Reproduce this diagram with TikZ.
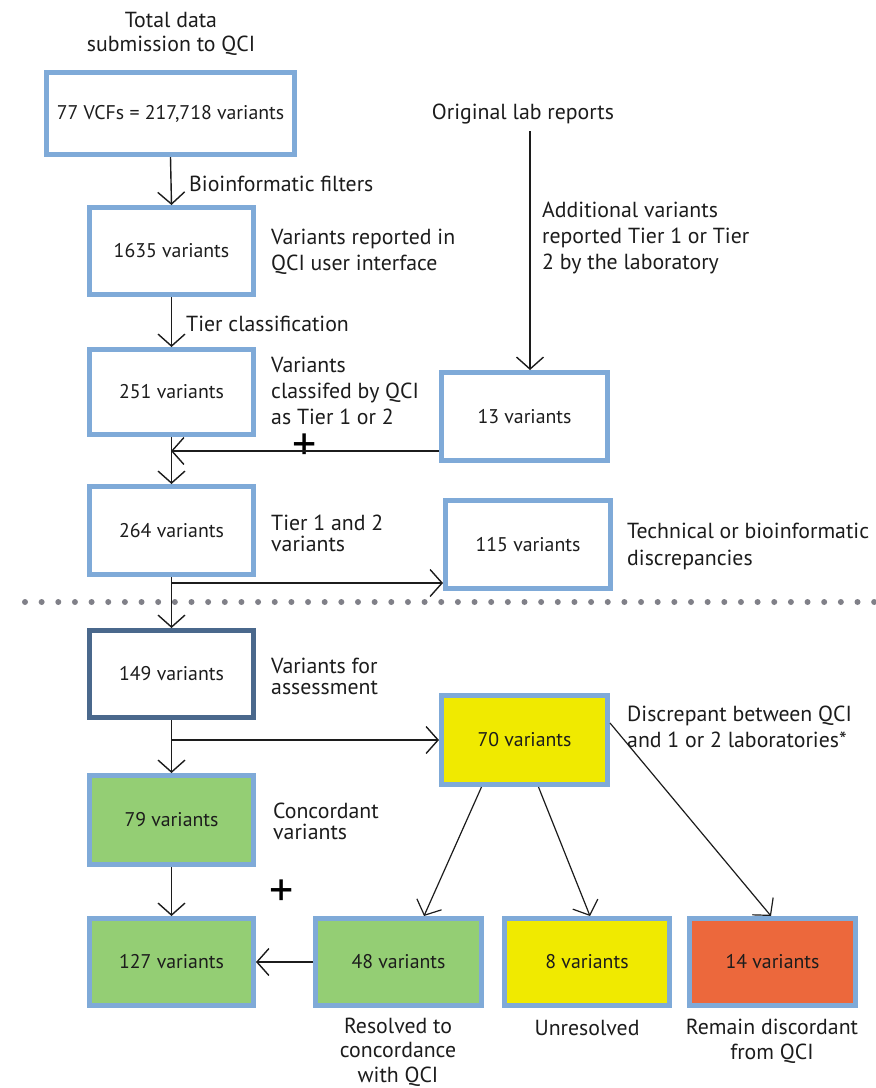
\documentclass[tikz,border=0pt]{standalone}
\usepackage{fontspec}
\setmainfont{PT Sans}
\usetikzlibrary{arrows.meta,calc}
\definecolor{lblue}{RGB}{127,170,216}
\definecolor{dblue}{RGB}{74,104,140}
\definecolor{gfill}{RGB}{148,206,116}
\definecolor{yfill}{RGB}{240,234,0}
\definecolor{ofill}{RGB}{236,104,60}
\definecolor{dotc}{RGB}{128,128,136}
\definecolor{txt}{RGB}{28,28,28}
\begin{document}
\begin{tikzpicture}[x=1pt,y=-1pt,
  box/.style={draw=lblue,line width=5pt,fill=white,inner sep=0pt,text=txt,
    font=\fontsize{19.8}{23}\selectfont},
  lbl/.style={anchor=west,align=left,inner sep=0pt,text=txt,font=\fontsize{21.8}{#1}\selectfont},
  lbl/.default={26},
  clbl/.style={align=center,inner sep=0pt,text=txt,font=\fontsize{21.8}{#1}\selectfont},
  clbl/.default={25},
  arr/.style={line width=1.4pt,draw=txt,-{Straight Barb[length=12pt,width=27pt]}},
  darr/.style={line width=1.2pt,draw=txt,-{Straight Barb[length=12pt,width=27pt]}},
  plus/.style={inner sep=0pt,text=black,font=\fontsize{48}{48}\selectfont}]
\useasboundingbox (0,0) rectangle (876,1088);

% boxes
\node[box,minimum width=248pt,minimum height=82pt] (A) at (170.5,113.5) {77 VCFs = 217,718 variants};
\node[box,minimum width=164pt,minimum height=87pt] (B) at (171.5,251) {1635 variants};
\node[box,minimum width=164pt,minimum height=85pt] (C) at (171.5,392) {251 variants};
\node[box,minimum width=166pt,minimum height=88pt] (D) at (524.5,416.5) {13 variants};
\node[box,minimum width=164pt,minimum height=88pt] (E) at (171.5,530.5) {264 variants};
\node[box,minimum width=165pt,minimum height=88pt] (F) at (528,544.5) {115 variants};
\node[box,draw=dblue,minimum width=164pt,minimum height=87pt] (G) at (171.5,674) {149 variants};
\node[box,fill=yfill,minimum width=166pt,minimum height=89pt] (H) at (524.5,740) {70 variants};
\node[box,fill=gfill,minimum width=164pt,minimum height=89pt] (I) at (171.5,820) {79 variants};
\node[box,fill=gfill,minimum width=164pt,minimum height=87pt] (J) at (171.5,962) {127 variants};
\node[box,fill=gfill,minimum width=166pt,minimum height=87pt] (K) at (398.5,962) {48 variants};
\node[box,fill=yfill,minimum width=165pt,minimum height=87pt] (L) at (587,962) {8 variants};
\node[box,fill=ofill,minimum width=166pt,minimum height=87pt] (M) at (772.5,962) {14 variants};

% labels
\node[clbl={24}] (t0) at (171,34) {Total data\\submission to QCI};
\node[clbl] (O) at (523,114) {Original lab reports};
\node[lbl] (t1) at (189,184) {Bioinformatic filters};
\node[lbl] (t2) at (271,252) {Variants reported in\\QCI user interface};
\node[lbl] (t3) at (542,238) {Additional variants\\reported Tier 1 or Tier\\2 by the laboratory};
\node[lbl] (t4) at (186,324) {Tier classification};
\node[lbl] (t5) at (271,391) {Variants\\classifed by QCI\\as Tier 1 or 2};
\node[lbl={21}] (t6) at (271,533) {Tier 1 and 2\\variants};
\node[lbl={27}] (t7) at (627,546) {Technical or bioinformatic\\discrepancies};
\node[lbl={21}] (t8) at (271,676) {Variants for\\assessment};
\node[lbl] (t9) at (627,727) {Discrepant between QCI\\and 1 or 2 laboratories*};
\node[lbl={21}] (t10) at (273,821) {Concordant\\variants};
\node[clbl={24.5}] (t11) at (398,1052) {Resolved to\\concordance\\with QCI};
\node[clbl] (t12) at (587,1028) {Unresolved};
\node[clbl] (t13) at (772,1041) {Remain discordant\\from QCI};

\node[plus] (p1) at (305,447) {+};
\node[plus] (p2) at (282,893) {+};

% dotted separator
\draw[dotc,line width=6pt,line cap=round,dash pattern=on 0pt off 16.65pt] (25,602) -- (876,602);

% connectors
\coordinate (o1) at (530,131);
\coordinate (j) at (171,451);
\coordinate (b1) at (171,583);
\coordinate (b2) at (171,740);
\draw[arr] (A.south) -- (B.north);
\draw[arr] (B.south) -- (C.north);
\draw[arr] (o1) -- (o1 |- D.north);
\draw[arr] (C.south) -- (E.north);
\draw[arr] (j -| D.west) -- (j);
\draw[arr] (E.south) -- (G.north);
\draw[arr] (b1) -- (b1 -| F.west);
\draw[arr] (G.south) -- (I.north);
\draw[arr] (b2) -- (H.west);
\draw[arr] (I.south) -- (J.north);
\draw[arr] (K.west) -- (J.east);
\draw[darr] ([xshift=-43pt]H.south) -- ([xshift=25.5pt]K.north);
\draw[darr] ([xshift=14pt]H.south) -- ([xshift=3pt]L.north);
\draw[darr] ([yshift=17pt]H.east) -- ([xshift=-1.5pt]M.north);
\end{tikzpicture}
\end{document}
